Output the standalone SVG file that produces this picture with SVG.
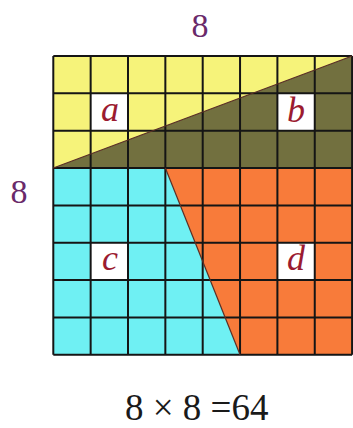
<svg xmlns="http://www.w3.org/2000/svg" width="353" height="428" viewBox="0 0 353 428">
<style>
.grid{stroke:#151515;stroke-width:2;fill:none}
.cut{stroke:#5a2e24;stroke-width:1.2;fill:none}
.box{fill:#ffffff}
.lab{font-family:"Liberation Serif","DejaVu Serif",serif;font-style:italic;font-size:36px;fill:#9b1b30;text-anchor:middle}
.dim{font-family:"Liberation Serif","DejaVu Serif",serif;font-size:34px;fill:#6a2a6a;text-anchor:middle}
.eq{font-family:"Liberation Serif","DejaVu Serif",serif;font-size:37px;fill:#1a1a1a}
</style>
<rect width="353" height="428" fill="#ffffff"/>
<g id="piece-a"><polygon points="53.3,56 352.1,56 53.3,168.05" fill="#f6f37a"/></g>
<g id="piece-b"><polygon points="352.1,56 352.1,168.05 53.3,168.05" fill="#72703f"/></g>
<g id="piece-c"><polygon points="53.3,168.05 165.35,168.05 240.05,354.8 53.3,354.8" fill="#6ff0f3"/></g>
<g id="piece-d"><polygon points="165.35,168.05 352.1,168.05 352.1,354.8 240.05,354.8" fill="#f87b3a"/></g>
<g id="boxes">
<rect class="box" x="90.65" y="93.35" width="37.35" height="37.35"/>
<rect class="box" x="277.4" y="93.35" width="37.35" height="37.35"/>
<rect class="box" x="90.65" y="242.75" width="37.35" height="37.35"/>
<rect class="box" x="277.4" y="242.75" width="37.35" height="37.35"/>
</g>
<g id="grid" class="grid">
<path d="M53.3,56V354.8M90.65,56V354.8M128,56V354.8M165.35,56V354.8M202.7,56V354.8M240.05,56V354.8M277.4,56V354.8M314.75,56V354.8M352.1,56V354.8"/>
<path d="M53.3,56H352.1M53.3,93.35H352.1M53.3,130.7H352.1M53.3,168.05H352.1M53.3,205.4H352.1M53.3,242.75H352.1M53.3,280.1H352.1M53.3,317.45H352.1M53.3,354.8H352.1"/>
</g>
<g id="cuts" class="cut">
<line x1="53.3" y1="168.05" x2="352.1" y2="56"/>
<line x1="165.35" y1="168.05" x2="240.05" y2="354.8"/>
</g>
<g id="labels">
<text class="lab" x="110" y="121">a</text>
<text class="lab" x="296" y="122">b</text>
<text class="lab" x="110" y="270">c</text>
<text class="lab" x="296" y="270">d</text>
</g>
<g id="dims">
<text class="dim" x="200" y="37">8</text>
<text class="dim" x="19" y="203">8</text>
</g>
<text class="eq" x="125" y="420">8 × 8 =64</text>
</svg>
